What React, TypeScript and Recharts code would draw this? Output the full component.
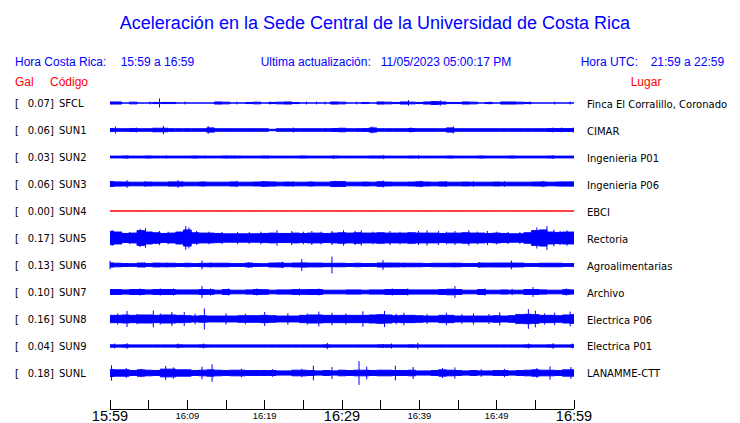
import { Area, ComposedChart, ErrorBar, Scatter, XAxis, YAxis } from "recharts";

// station rows, top to bottom
const STATIONS = ["SFCL", "SUN1", "SUN2", "SUN3", "SUN4", "SUN5", "SUN6", "SUN7", "SUN8", "SUN9", "SUNL"];
const PEAK_GAL = ["0.07", "0.06", "0.03", "0.06", "0.00", "0.17", "0.13", "0.10", "0.16", "0.04", "0.18"];
const PLACES = [
  "Finca El Corralillo, Coronado",
  "CIMAR",
  "Ingenieria P01",
  "Ingenieria P06",
  "EBCI",
  "Rectoria",
  "Agroalimentarias",
  "Archivo",
  "Electrica P06",
  "Electrica P01",
  "LANAMME-CTT",
];

// minutes after 15:59
const MINUTES = Array.from({ length: 61 }, (_, i) => i);
const TIME_TICKS = [0, 5, 10, 15, 20, 25, 30, 35, 40, 45, 50, 55, 60];
const TIME_LABELS = ["15:59", "", "16:09", "", "16:19", "", "16:29", "", "16:39", "", "16:49", "", "16:59"];

// half-amplitude of each trace per minute (Gal)
const SFCL_ENV = [
  0.015, 0.015, 0, 0.012, 0, 0, 0.008, 0.008, 0.008, 0,
  0, 0, 0, 0, 0.015, 0.012, 0, 0, 0.008, 0.012,
  0, 0.008, 0.012, 0.015, 0.008, 0, 0, 0, 0, 0.015,
  0.012, 0, 0, 0.008, 0, 0.015, 0.012, 0.008, 0.015, 0.012,
  0.008, 0.015, 0.02, 0.015, 0.008, 0.008, 0.015, 0.012, 0, 0.008,
  0, 0.015, 0.015, 0.012, 0.008, 0, 0, 0, 0, 0,
  0,
];
const SUN1_ENV = [
  0.022, 0.018, 0.018, 0.02, 0.018, 0.018, 0.025, 0.025, 0.018, 0.018,
  0.018, 0.018, 0.018, 0.03, 0.018, 0.018, 0.018, 0.018, 0.018, 0.018,
  0.018, 0.01, 0.018, 0.018, 0.018, 0.018, 0.018, 0.018, 0.018, 0.02,
  0.025, 0.018, 0.018, 0.02, 0.03, 0.018, 0.018, 0.018, 0.018, 0.022,
  0.018, 0.018, 0.018, 0.018, 0.03, 0.018, 0.018, 0.018, 0.018, 0.018,
  0.018, 0.018, 0.018, 0.018, 0.018, 0.018, 0.018, 0.02, 0.02, 0.02,
  0.02,
];
const SUN2_ENV = [
  0.013, 0.013, 0.015, 0.013, 0.013, 0.015, 0.013, 0.013, 0.013, 0.013,
  0.013, 0.015, 0.013, 0.013, 0.013, 0.015, 0.015, 0.013, 0.013, 0.013,
  0.015, 0.013, 0.013, 0.013, 0.013, 0.015, 0.013, 0.013, 0.013, 0.015,
  0.013, 0.013, 0.013, 0.013, 0.015, 0.015, 0.013, 0.013, 0.013, 0.015,
  0.013, 0.013, 0.013, 0.013, 0.015, 0.013, 0.013, 0.013, 0.015, 0.013,
  0.013, 0.013, 0.015, 0.013, 0.013, 0.013, 0.013, 0.015, 0.013, 0.013,
  0.013,
];
const SUN3_ENV = [
  0.035, 0.03, 0.028, 0.026, 0.026, 0.028, 0.026, 0.026, 0.03, 0.03,
  0.026, 0.026, 0.028, 0.026, 0.026, 0.026, 0.03, 0.026, 0.026, 0.028,
  0.032, 0.03, 0.026, 0.028, 0.026, 0.026, 0.028, 0.026, 0.026, 0.034,
  0.034, 0.026, 0.026, 0.028, 0.026, 0.032, 0.028, 0.026, 0.026, 0.028,
  0.032, 0.028, 0.026, 0.03, 0.026, 0.026, 0.028, 0.026, 0.026, 0.026,
  0.028, 0.026, 0.026, 0.026, 0.026, 0.028, 0.03, 0.026, 0.028, 0.03,
  0.03,
];
const SUN4_ENV = [
  0, 0, 0, 0, 0, 0, 0, 0, 0, 0,
  0, 0, 0, 0, 0, 0, 0, 0, 0, 0,
  0, 0, 0, 0, 0, 0, 0, 0, 0, 0,
  0, 0, 0, 0, 0, 0, 0, 0, 0, 0,
  0, 0, 0, 0, 0, 0, 0, 0, 0, 0,
  0, 0, 0, 0, 0, 0, 0, 0, 0, 0,
  0,
];
const SUN5_ENV = [
  0.095, 0.085, 0.065, 0.07, 0.105, 0.085, 0.075, 0.065, 0.07, 0.085,
  0.115, 0.075, 0.07, 0.07, 0.065, 0.06, 0.06, 0.06, 0.06, 0.06,
  0.065, 0.07, 0.065, 0.065, 0.07, 0.065, 0.07, 0.07, 0.065, 0.07,
  0.075, 0.07, 0.075, 0.07, 0.07, 0.075, 0.07, 0.07, 0.07, 0.075,
  0.07, 0.07, 0.07, 0.065, 0.07, 0.07, 0.075, 0.07, 0.07, 0.065,
  0.07, 0.065, 0.06, 0.06, 0.075, 0.105, 0.115, 0.085, 0.08, 0.085,
  0.085,
];
const SUN6_ENV = [
  0.03, 0.025, 0.02, 0.019, 0.028, 0.02, 0.027, 0.025, 0.025, 0.02,
  0.025, 0.02, 0.024, 0.025, 0.025, 0.025, 0.02, 0.02, 0.028, 0.02,
  0.019, 0.028, 0.03, 0.024, 0.028, 0.03, 0.027, 0.027, 0.024, 0.025,
  0.025, 0.02, 0.025, 0.02, 0.02, 0.028, 0.028, 0.027, 0.025, 0.025,
  0.025, 0.02, 0.025, 0.024, 0.025, 0.025, 0.02, 0.02, 0.028, 0.027,
  0.028, 0.028, 0.028, 0.027, 0.02, 0.02, 0.025, 0.025, 0.025, 0.02,
  0.02,
];
const SUN7_ENV = [
  0.035, 0.035, 0.03, 0.035, 0.035, 0.03, 0.035, 0.035, 0.035, 0.03,
  0.03, 0.03, 0.035, 0.033, 0.026, 0.035, 0.026, 0.026, 0.03, 0.035,
  0.033, 0.026, 0.03, 0.03, 0.035, 0.033, 0.035, 0.035, 0.026, 0.026,
  0.026, 0.03, 0.03, 0.026, 0.03, 0.03, 0.035, 0.035, 0.035, 0.03,
  0.03, 0.03, 0.03, 0.035, 0.04, 0.035, 0.026, 0.026, 0.035, 0.026,
  0.026, 0.03, 0.026, 0.026, 0.035, 0.035, 0.03, 0.026, 0.026, 0.033,
  0.03,
];
const SUN8_ENV = [
  0.052, 0.052, 0.057, 0.052, 0.057, 0.057, 0.052, 0.057, 0.057, 0.052,
  0.047, 0.042, 0.047, 0.042, 0.042, 0.042, 0.042, 0.047, 0.047, 0.047,
  0.052, 0.047, 0.042, 0.042, 0.042, 0.052, 0.057, 0.057, 0.052, 0.052,
  0.052, 0.052, 0.052, 0.052, 0.057, 0.062, 0.057, 0.047, 0.052, 0.052,
  0.047, 0.042, 0.042, 0.052, 0.052, 0.042, 0.042, 0.042, 0.042, 0.042,
  0.047, 0.042, 0.047, 0.062, 0.067, 0.062, 0.052, 0.052, 0.047, 0.057,
  0.062,
];
const SUN9_ENV = [
  0.017, 0.016, 0.017, 0.016, 0.016, 0.016, 0.016, 0.016, 0.016, 0.017,
  0.016, 0.016, 0.017, 0.016, 0.016, 0.016, 0.016, 0.016, 0.016, 0.016,
  0.016, 0.016, 0.016, 0.016, 0.016, 0.016, 0.016, 0.016, 0.017, 0.016,
  0.016, 0.016, 0.016, 0.016, 0.016, 0.017, 0.017, 0.016, 0.016, 0.017,
  0.016, 0.016, 0.016, 0.016, 0.016, 0.016, 0.016, 0.016, 0.016, 0.016,
  0.016, 0.016, 0.016, 0.016, 0.017, 0.016, 0.016, 0.017, 0.016, 0.016,
  0.017,
];
const SUNL_ENV = [
  0.05, 0.045, 0.045, 0.035, 0.045, 0.04, 0.035, 0.055, 0.055, 0.045,
  0.045, 0.035, 0.04, 0.045, 0.04, 0.035, 0.04, 0.04, 0.035, 0.035,
  0.035, 0.035, 0.03, 0.03, 0.04, 0.04, 0.035, 0.03, 0.035, 0.03,
  0.04, 0.035, 0.04, 0.04, 0.035, 0.04, 0.04, 0.035, 0.035, 0.04,
  0.03, 0.03, 0.035, 0.045, 0.04, 0.035, 0.03, 0.035, 0.03, 0.03,
  0.035, 0.035, 0.03, 0.035, 0.04, 0.045, 0.04, 0.04, 0.035, 0.045,
  0.045,
];

// short peaks: [minute, half-amplitude in Gal]
const SFCL_SPIKES = [
  [6.4, 0.065], [38.6, 0.04], [42.7, 0.04], [5.2, 0.02], [9.7, 0.02], [16.4, 0.02], [20.7, 0.02],
  [25.4, 0.02], [26.7, 0.02], [27.8, 0.02], [31.9, 0.02], [49.1, 0.02], [54.3, 0.02], [57.5, 0.02], [59.5, 0.02],
];
const SUN1_SPIKES = [
  [0.7, 0.05], [2.6, 0.03], [3.4, 0.035], [5.8, 0.03], [6.9, 0.06], [8, 0.03], [10, 0.025], [12.7, 0.055],
  [23.7, 0.035], [27.8, 0.03], [29.1, 0.03], [32.1, 0.03], [33.9, 0.05], [38.9, 0.035], [44.4, 0.05],
  [57.3, 0.035], [58.4, 0.035], [59.9, 0.035],
];
const SUN2_SPIKES = [
  [2.2, 0.025], [5, 0.02], [7.3, 0.02], [11, 0.02], [12.3, 0.02], [15, 0.02], [16.8, 0.02], [20.5, 0.02],
  [24.8, 0.02], [28.9, 0.025], [35.4, 0.03], [39.9, 0.025], [44, 0.02], [48, 0.02], [52, 0.02], [57.3, 0.025],
];
const SUN3_SPIKES = [
  [2.2, 0.055], [4.5, 0.04], [8.8, 0.055], [12, 0.04], [16.4, 0.045], [19.8, 0.04], [23.7, 0.04], [26, 0.04],
  [29.1, 0.045], [35.3, 0.05], [40.2, 0.045], [43.5, 0.04], [47, 0.04], [51, 0.04], [56, 0.045], [58.2, 0.04],
  [59.5, 0.04],
];
const SUN4_SPIKES: number[][] = [];
const SUN5_SPIKES = [
  [0.3, 0.11], [1.5, 0.09], [2.5, 0.085], [3.9, 0.13], [4.6, 0.14], [6.4, 0.1], [7.5, 0.09], [9.8, 0.17],
  [10.2, 0.15], [11.2, 0.1], [12.8, 0.09], [14.5, 0.085], [16.5, 0.085], [18, 0.085], [19.5, 0.09],
  [21.6, 0.11], [23.5, 0.1], [25, 0.09], [26.1, 0.1], [27.3, 0.09], [28.7, 0.1], [30.2, 0.11], [31.7, 0.1],
  [32.5, 0.11], [34, 0.09], [36.2, 0.1], [37.5, 0.09], [39.9, 0.1], [41, 0.11], [42.5, 0.1], [43.5, 0.09],
  [44.6, 0.1], [46.4, 0.11], [47.5, 0.09], [48.8, 0.1], [50, 0.09], [51.5, 0.085], [53, 0.085], [55.2, 0.15],
  [56.5, 0.17], [57.4, 0.12], [58.2, 0.1], [59.1, 0.11],
];
const SUN6_SPIKES = [
  [0, 0.06], [4.5, 0.04], [7.3, 0.035], [11.9, 0.064], [13, 0.035], [17.9, 0.04], [22.3, 0.045], [24.8, 0.085],
  [28.7, 0.12], [35.3, 0.07], [38, 0.035], [44.5, 0.035], [47.8, 0.04], [51.9, 0.063],
];
const SUN7_SPIKES = [
  [3.9, 0.05], [6.5, 0.05], [8.2, 0.05], [11.9, 0.085], [13, 0.05], [15.3, 0.05], [19, 0.05], [24.5, 0.05],
  [27, 0.05], [36.5, 0.05], [38.5, 0.05], [44.6, 0.085], [48.5, 0.05], [52, 0.045], [54.7, 0.07], [59, 0.05],
];
const SUN8_SPIKES = [
  [1, 0.08], [2.2, 0.115], [3.5, 0.075], [5.6, 0.12], [6.5, 0.08], [8, 0.1], [9.6, 0.1], [11, 0.075],
  [12.2, 0.15], [15, 0.08], [17.5, 0.075], [20, 0.1], [23, 0.08], [25.5, 0.08], [27, 0.105], [28.7, 0.09],
  [30.5, 0.08], [32.7, 0.11], [35.5, 0.115], [37, 0.075], [38, 0.09], [41, 0.07], [43.5, 0.09], [45.5, 0.07],
  [47, 0.08], [49, 0.07], [50.4, 0.095], [52.5, 0.075], [54.1, 0.14], [55, 0.12], [56.2, 0.08], [57.5, 0.09],
  [59.5, 0.105],
];
const SUN9_SPIKES = [
  [0.6, 0.035], [2.2, 0.04], [8.8, 0.035], [12.1, 0.035], [28.1, 0.045], [35.3, 0.03], [36.4, 0.035],
  [39.8, 0.045], [54.1, 0.035], [57.3, 0.04], [59.8, 0.035],
];
const SUNL_SPIKES = [
  [0.2, 0.11], [2.1, 0.07], [4, 0.06], [7.2, 0.1], [8.2, 0.08], [11.9, 0.09], [13.2, 0.125], [17, 0.06],
  [21, 0.055], [24.8, 0.06], [26.3, 0.105], [28.7, 0.085], [32.2, 0.17], [33.2, 0.09], [36.9, 0.105],
  [39.2, 0.085], [43, 0.07], [44.6, 0.08], [48, 0.055], [51, 0.06], [55.2, 0.07], [56.9, 0.095], [59.6, 0.085],
];

const ENVELOPES = [SFCL_ENV, SUN1_ENV, SUN2_ENV, SUN3_ENV, SUN4_ENV, SUN5_ENV, SUN6_ENV, SUN7_ENV, SUN8_ENV, SUN9_ENV, SUNL_ENV];
const SPIKES = [SFCL_SPIKES, SUN1_SPIKES, SUN2_SPIKES, SUN3_SPIKES, SUN4_SPIKES, SUN5_SPIKES, SUN6_SPIKES, SUN7_SPIKES, SUN8_SPIKES, SUN9_SPIKES, SUNL_SPIKES];

// vertical gap between trace baselines, in Gal
const ROW_STEP = 0.3857;
const Y_DOMAIN = [-0.5143, 4.0714];

const BLUE = "#0000ff";
const RED = "#ff0000";

const baseOf = (i: number) => (STATIONS.length - 1 - i) * ROW_STEP;
const ROW_TICKS = STATIONS.map((_, i) => baseOf(i));

const table = MINUTES.map((t, k) => {
  const row: Record<string, any> = { t };
  STATIONS.forEach((code, i) => {
    const a = ENVELOPES[i][k];
    row[code] = [baseOf(i) - a, baseOf(i) + a];
  });
  return row;
});

const rowIndex = (v: number) => Math.round(STATIONS.length - 1 - v / ROW_STEP);

function StationTick({ y, payload }: any) {
  const i = rowIndex(payload.value);
  return (
    <g fontFamily="DejaVu Sans" fontSize={10} fill="#000">
      <text x={15} y={y + 4}>[</text>
      <text x={27.7} y={y + 4}>{PEAK_GAL[i]}]</text>
      <text x={59} y={y + 4}>{STATIONS[i]}</text>
    </g>
  );
}

function PlaceTick({ y, payload }: any) {
  const i = rowIndex(payload.value);
  return (
    <text x={587} y={y + 4.5} fontFamily="DejaVu Sans" fontSize={10} fill="#000">
      {PLACES[i]}
    </text>
  );
}

function TimeTick({ x, y, payload, index }: any) {
  const label = TIME_LABELS[index];
  const major = payload.value % 30 === 0;
  return (
    <g>
      <line x1={x} x2={x} y1={y - 9} y2={y} stroke="#000" shapeRendering="crispEdges" />
      {label && (
        <text
          x={x}
          y={major ? y + 12 : y + 10}
          textAnchor="middle"
          fontFamily="Liberation Sans"
          fontSize={major ? 14.5 : 9.5}
          fill="#000"
        >
          {label}
        </text>
      )}
    </g>
  );
}

export default function App() {
  return (
    <div style={{ position: "absolute", left: 0, top: 0, background: "#fff" }}>
      <ComposedChart width={740} height={423} data={table} margin={{ top: 88, right: 0, bottom: 0, left: 0 }}>
        <XAxis
          dataKey="t"
          type="number"
          domain={[0, 60]}
          ticks={TIME_TICKS}
          interval={0}
          height={14}
          tickSize={0}
          tickMargin={0}
          tickLine={false}
          axisLine={{ stroke: "#000", shapeRendering: "crispEdges" }}
          tick={(p: any) => <TimeTick {...p} />}
        />
        <YAxis
          yAxisId="left"
          type="number"
          domain={Y_DOMAIN}
          allowDataOverflow
          ticks={ROW_TICKS}
          interval={0}
          width={110}
          axisLine={false}
          tickLine={false}
          tick={(p: any) => <StationTick {...p} />}
        />
        <YAxis
          yAxisId="right"
          orientation="right"
          type="number"
          domain={Y_DOMAIN}
          allowDataOverflow
          ticks={ROW_TICKS}
          interval={0}
          width={166}
          axisLine={false}
          tickLine={false}
          tick={(p: any) => <PlaceTick {...p} />}
        />
        {STATIONS.map((code) => (
          <Area
            key={code}
            yAxisId="left"
            dataKey={code}
            type="step"
            stroke={code === "SUN4" ? RED : BLUE}
            strokeWidth={1}
            fill={code === "SUN4" ? RED : BLUE}
            fillOpacity={1}
            dot={false}
            activeDot={false}
            isAnimationActive={false}
          />
        ))}
        {STATIONS.map((code, i) => (
          <Scatter
            key={`${code}-spikes`}
            yAxisId="left"
            data={SPIKES[i].map(([t, a]) => ({ t, y: baseOf(i), err: a }))}
            dataKey="y"
            shape={() => <g />}
            isAnimationActive={false}
          >
            <ErrorBar dataKey="err" direction="y" width={0} stroke={BLUE} strokeWidth={1} isAnimationActive={false} />
          </Scatter>
        ))}

        <text x={375} y={28.5} textAnchor="middle" fontFamily="Liberation Sans" fontSize={18} fill={BLUE}>
          Aceleración en la Sede Central de la Universidad de Costa Rica
        </text>
        <g fontFamily="Liberation Sans" fontSize={12} fill={BLUE}>
          <text x={15} y={65.5}>Hora Costa Rica:</text>
          <text x={120.7} y={65.5}>15:59 a 16:59</text>
          <text x={260.7} y={65.5}>Ultima actualización:</text>
          <text x={380.7} y={65.5}>11/05/2023 05:00:17 PM</text>
          <text x={580.7} y={65.5}>Hora UTC:</text>
          <text x={650.7} y={65.5}>21:59 a 22:59</text>
        </g>
        <g fontFamily="Liberation Sans" fontSize={12} fill={RED}>
          <text x={15} y={85.5}>Gal</text>
          <text x={50} y={85.5}>Código</text>
          <text x={630.7} y={85.5}>Lugar</text>
        </g>
      </ComposedChart>
    </div>
  );
}
